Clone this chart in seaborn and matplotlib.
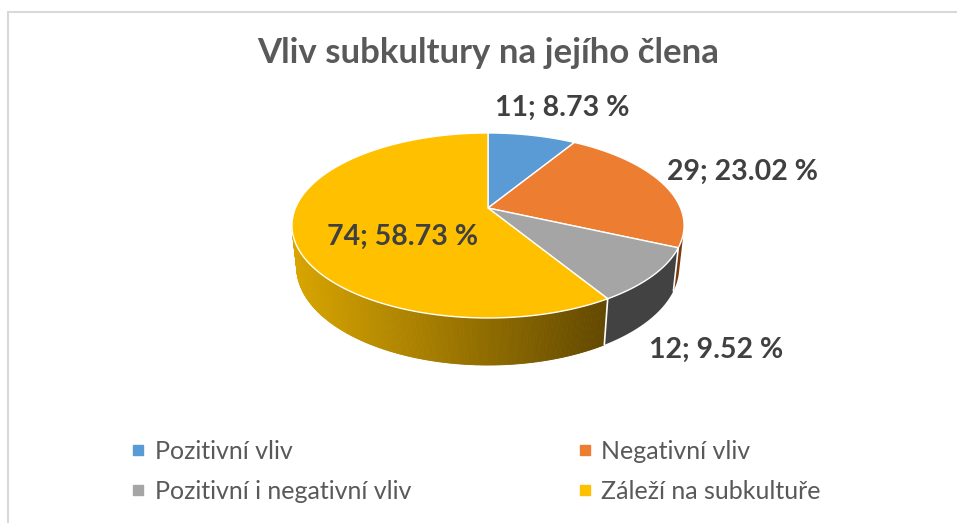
import numpy as np
import seaborn as sns
import matplotlib
matplotlib.use('Agg')
import matplotlib.pyplot as plt
from matplotlib.lines import Line2D

# data
categories = ['Pozitivní vliv', 'Negativní vliv', 'Pozitivní i negativní vliv', 'Záleží na subkultuře']
counts = [11, 29, 12, 74]
title = 'Vliv subkultury na jejího člena'

top_colors = ['#5B9BD5', '#ED7D31', '#A5A5A5', '#FFC000']
side_colors = ['#2F5A85', '#7A3A10', '#424242', None]   # None -> gradient
grad_left, grad_right = np.array([216, 165, 0]) / 255, np.array([98, 72, 0]) / 255

# 3d view settings (radius = 1)
cx, cy = 488, 208
F, D, beta, thick = 903.0, 4.69, np.radians(27.6), 0.246
lab_r = [1.5, 1.5, 1.35, 0.52]
lab_shift = [3.4, 0.0, 0.0, -20.4]
lab_z = [0, 0, -1, 0]


def proj(r, th, z=0.0):
    th = np.radians(th)
    sx, sy = r * np.sin(th), r * np.cos(th)
    depth = D + sy * np.cos(beta) - z * thick * np.sin(beta)
    ys = sy * np.sin(beta) + z * thick * np.cos(beta)
    return cx + F * sx / depth, cy - F * ys / depth


sns.set_theme(style='white')
plt.rcParams['font.family'] = ['Lato', 'DejaVu Sans']

fig = plt.figure(figsize=(9.57, 5.23), dpi=100)
ax = fig.add_axes([0, 0, 1, 1])
ax.set_xlim(0, 957)
ax.set_ylim(523, 0)
ax.axis('off')

# chart frame (top and left visible)
ax.plot([8, 957], [12, 12], color='#D9D9D9', lw=1.5)
ax.plot([8, 8], [12, 523], color='#D9D9D9', lw=1.5)

total = sum(counts)
fracs = np.array(counts) / total
edges = np.concatenate([[0], np.cumsum(fracs) * 360])

# visible range of the side wall
cvis = -1 / (D * np.cos(beta))
vis_lo = np.degrees(np.arccos(cvis))
vis_hi = 360 - vis_lo

# sides
for i in range(len(counts)):
    a0, a1 = max(edges[i], vis_lo), min(edges[i + 1], vis_hi)
    if a1 <= a0:
        continue
    if side_colors[i] is not None:
        th = np.linspace(a0, a1, 60)
        tx, ty = proj(1, th)
        bx, by = proj(1, th, -1)
        ax.fill(np.r_[tx, bx[::-1]], np.r_[ty, by[::-1]], color=side_colors[i], lw=0)
    else:
        th = np.linspace(a0, a1, 240)
        xl, _ = proj(1, vis_hi)
        xr, _ = proj(1, a0)
        for j in range(len(th) - 1):
            seg = th[j:j + 2]
            tx, ty = proj(1, seg)
            bx, by = proj(1, seg, -1)
            f = np.clip((tx.mean() - xl) / (xr - xl), 0, 1)
            col = grad_left * (1 - f) + grad_right * f
            ax.fill(np.r_[tx, bx[::-1]], np.r_[ty, by[::-1]], color=col, lw=0.6, ec=col)
# white seams on the side
for a in edges[1:-1]:
    if vis_lo < a < vis_hi:
        x0, y0 = proj(1, a)
        x1, y1 = proj(1, a, -1)
        ax.plot([x0, x1], [y0, y1], color='white', lw=1.2)

# top wedges
for i in range(len(counts)):
    th = np.linspace(edges[i], edges[i + 1], 120)
    px, py = proj(1, th)
    ax.fill(np.r_[cx, px, cx], np.r_[cy, py, cy], color=top_colors[i], ec='white', lw=1.0)

# data labels
for i in range(len(counts)):
    mid = (edges[i] + edges[i + 1]) / 2 + lab_shift[i]
    lx, ly = proj(lab_r[i], mid, lab_z[i])
    ax.text(lx, ly, f'{counts[i]}; {fracs[i] * 100:.2f} %', ha='center', va='center',
            fontsize=20.5, fontweight='bold', color='#404040')

ax.text(488, 53, title, ha='center', va='center', fontsize=25, fontweight='bold', color='#595959')

# legend, filled row by row
order = [0, 2, 1, 3]
handles = [Line2D([], [], marker='s', ls='', markersize=7, color=top_colors[k]) for k in order]
leg = ax.legend(handles, [categories[k] for k in order], ncol=2, loc='center left',
                bbox_to_anchor=(0.112, 0.099), frameon=False, fontsize=18,
                handletextpad=0.3, columnspacing=6.6, labelspacing=0.67,
                handlelength=0.7)
for t in leg.get_texts():
    t.set_color('#595959')

fig.savefig('out.png', dpi=100)
